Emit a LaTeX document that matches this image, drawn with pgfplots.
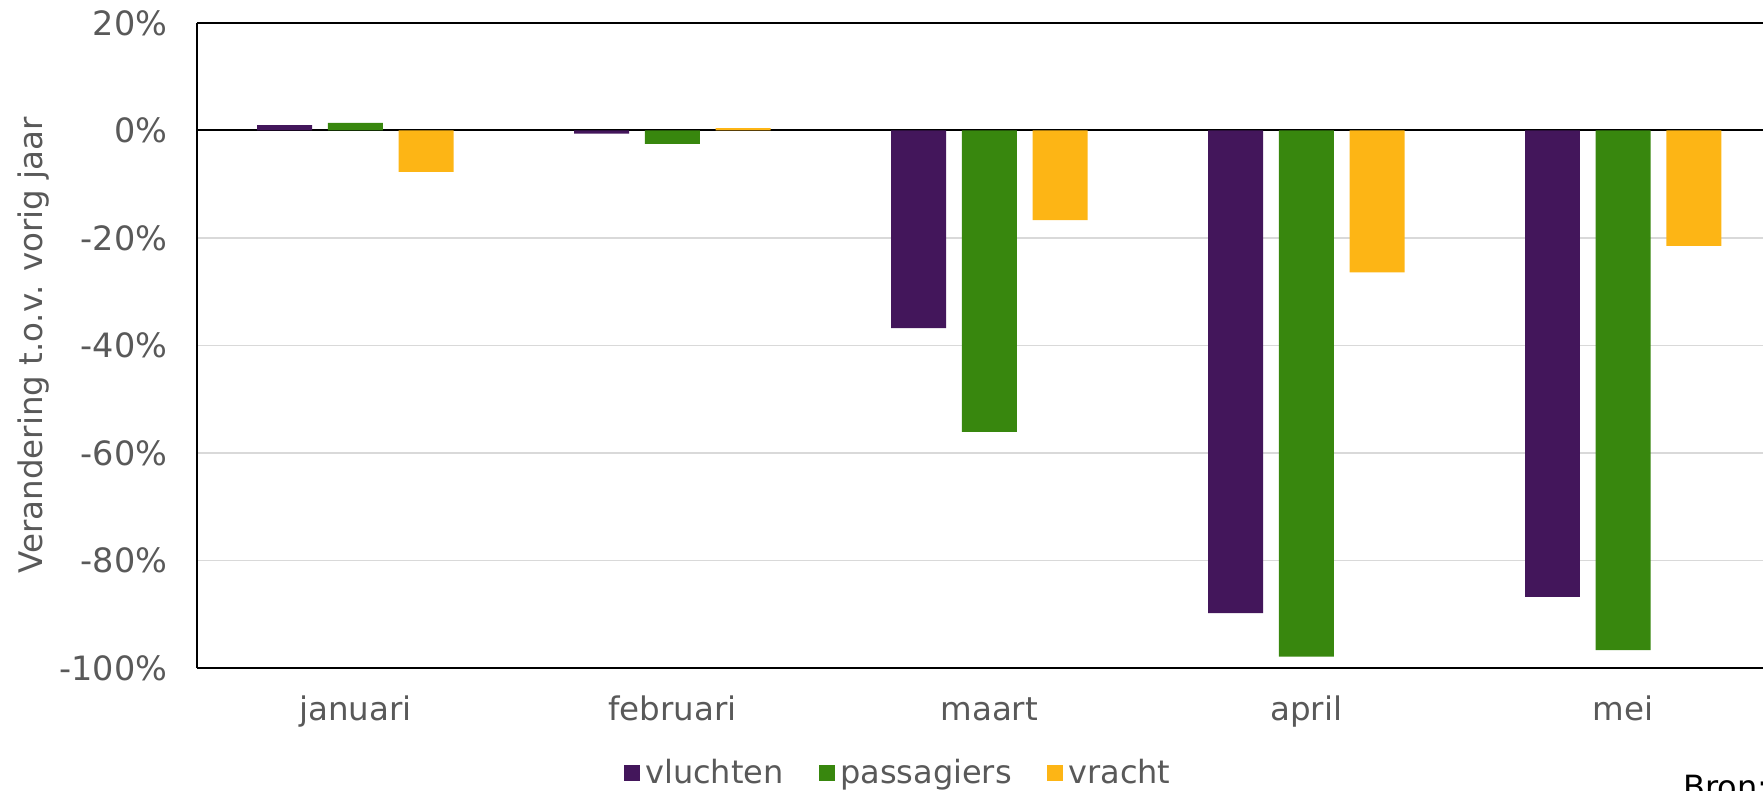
\documentclass[border=0pt]{standalone}
\usepackage{pgfplots}
\pgfplotsset{compat=1.18}
\usepackage{fontspec}
\setmainfont{DejaVu Sans}
\definecolor{cvl}{HTML}{43165B}
\definecolor{cpa}{HTML}{38870E}
\definecolor{cvr}{HTML}{FDB515}
\definecolor{tgray}{HTML}{595959}
\definecolor{ggray}{HTML}{D9D9D9}
\begin{document}
\begin{tikzpicture}
\begin{axis}[
  at={(0,0)}, anchor=south west,
  scale only axis, width=634pt, height=258pt,
  font=\fontsize{12.8}{15}\selectfont,
  ybar=6.3pt, bar width=22pt,
  xmin=-0.5, xmax=4.5, ymin=-100, ymax=20,
  axis x line=box, axis y line=left,
  y axis line style={-},
  axis line style={line width=0.8pt, black},
  xtick={0,1,2,3,4},
  xticklabels={januari,februari,maart,april,mei},
  ytick={-100,-80,-60,-40,-20,0,20},
  yticklabels={-100\%,-80\%,-60\%,-40\%,-20\%,0\%,20\%},
  major tick length=0pt,
  tick label style={text=tgray},
  y tick label style={xshift=-8.3pt, font=\fontsize{13.4}{15}\selectfont},
  x tick label style={anchor=base, yshift=-21.2pt, font=\fontsize{13}{15}\selectfont},
  ymajorgrids, grid style={ggray, line width=0.5pt},
  extra y ticks={0}, extra y tick labels={},
  extra y tick style={grid style={black, line width=0.8pt}},
  every axis y label/.style={at={(axis description cs:-0.1027,0.5)}, rotate=90, anchor=center, text=tgray, font=\fontsize{13}{15}\selectfont},
  ylabel={Verandering t.o.v. vorig jaar},
  legend style={at={(axis description cs:0.4434,-0.1637)}, anchor=center, draw=none,
    legend columns=3, text=tgray, font=\fontsize{12.8}{15}\selectfont,
    /tikz/every odd column/.append style={column sep=0pt},
    /tikz/every even column/.append style={column sep=12pt},
    inner sep=0pt},
  legend image code/.code={\fill[#1] (-1.6pt,-3.2pt) rectangle (5pt,3.4pt);},
]
\addplot[fill=cvl, draw=none] coordinates {(0,1.0) (1,-0.6) (2,-36.8) (3,-89.8) (4,-86.8)};
\addplot[fill=cpa, draw=none] coordinates {(0,1.4) (1,-2.5) (2,-56.1) (3,-97.9) (4,-96.7)};
\addplot[fill=cvr, draw=none] coordinates {(0,-7.7) (1,0.4) (2,-16.7) (3,-26.4) (4,-21.5)};
\legend{vluchten,passagiers,vracht}
\end{axis}
\node[anchor=base west, font=\fontsize{12.8}{15}\selectfont] at (591pt,-52.4pt) {Bron: CBS};
\pgfresetboundingbox
\path[use as bounding box] (-78.72pt,-49.2pt) rectangle (626.5pt,267.16pt);
\end{tikzpicture}
\end{document}
